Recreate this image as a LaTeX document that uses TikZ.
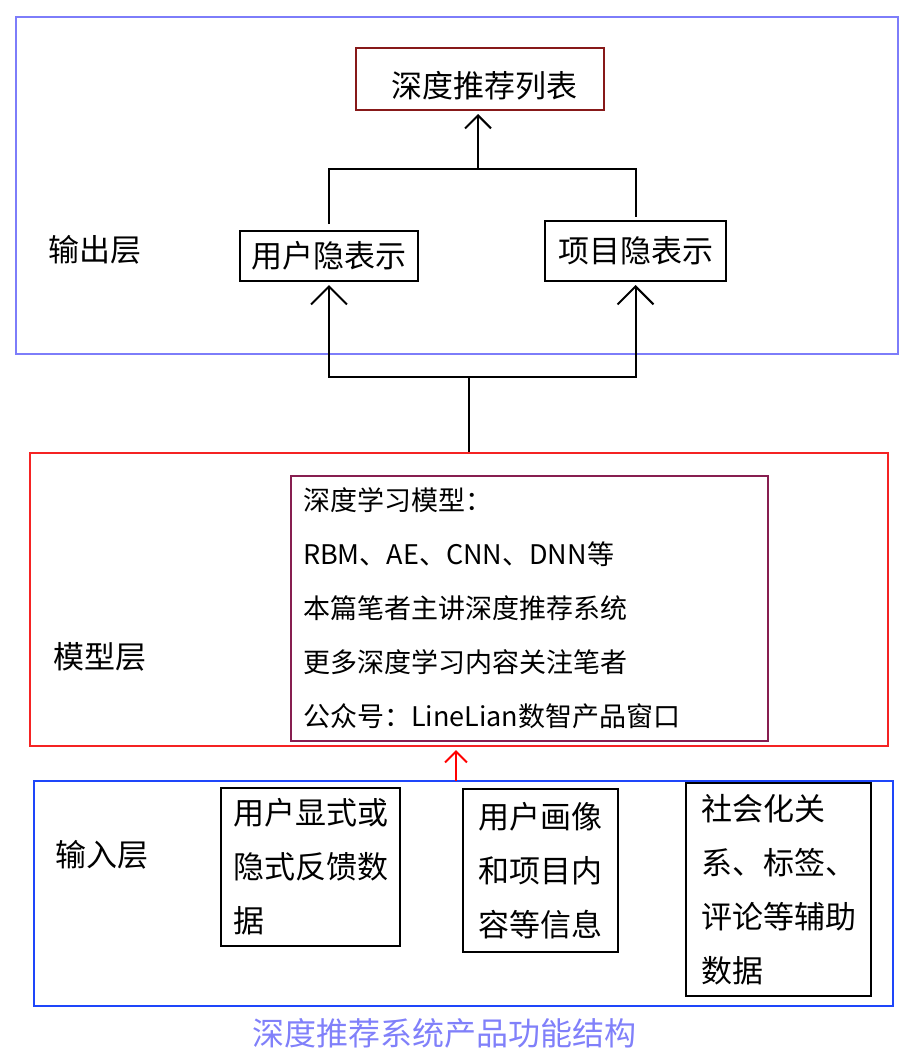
\documentclass[tikz,border=0pt]{standalone}
\usepackage{fontspec}
\setmainfont{Noto Sans CJK SC}
\usepackage{tikz}
\usetikzlibrary{arrows.meta,positioning}
\definecolor{outblue}{RGB}{125,125,250}
\definecolor{inblue}{RGB}{30,70,250}
\definecolor{modelred}{RGB}{245,35,35}
\definecolor{listred}{RGB}{135,25,25}
\definecolor{boxpurple}{RGB}{135,30,80}
\definecolor{captionblue}{RGB}{128,128,250}
\tikzset{
  layer/.style={draw, line width=2pt, minimum width=#1},
  box/.style={draw=black, line width=2pt, font=\fontsize{31}{54}\selectfont, align=left},
  lbl/.style={font=\fontsize{31}{36}\selectfont},
  link/.style={line width=2pt},
  uparrow/.style={link, -{Straight Barb[length=#1,width=2*#1]}, shorten >=3pt},
  uparrow/.default=14pt
}

\begin{document}
\begin{tikzpicture}[x=1pt,y=1pt]
                \tikzstyle{every node}+=[inner sep=0pt]
                \useasboundingbox (0,0) rectangle (910,-1058);
                \node [layer=882, draw=outblue, minimum height=337] (outlayer) at (457,-185.5) {};
                \node [lbl] (outlabel) at (95,-250) {输出层};
                \node [box, draw=listred, minimum width=248, minimum height=62, text height=40pt] (toplist) at (480,-79) {\hspace{8pt}深度推荐列表};
                \node [box, minimum width=178, minimum height=50] (userrep) at (329,-256) {用户隐表示};
                \node [box, minimum width=181, minimum height=60] (itemrep) at (635.5,-251) {项目隐表示};
                \coordinate (jtop) at (478,-169);
                \coordinate (jmid) at (469,-377);
                \draw [link, shorten <=6pt, shorten >=3pt] (userrep.north) |- (jtop) -| (itemrep.north);
                \draw [uparrow=13pt] (jtop) -- (jtop |- toplist.south);
                \draw [uparrow=18pt] (jmid) -| (userrep.south);
                \draw [uparrow=18pt] (jmid) -| (itemrep.south);
                \node [layer=858, draw=modelred, minimum height=293] (modellayer) at (459,-599.5) {};
                \draw [link] (jmid) -- (jmid |- modellayer.north);
                \node [lbl] (modellabel) at (100,-657) {模型层};
                \node [box, draw=boxpurple, minimum height=265, text width=453, inner xsep=12pt, font=\fontsize{27}{54}\selectfont] (models) at (529.5,-608.5)
                    {深度学习模型：\\RBM、AE、CNN、DNN等\\本篇笔者主讲深度推荐系统\\更多深度学习内容关注笔者\\公众号：LineLian数智产品窗口};
                \node [layer=859, draw=inblue, minimum height=225] (inlayer) at (463.5,-893.5) {};
                \coordinate (rin) at (456,-781);
                \draw [uparrow=11pt, draw=red] (rin) -- (rin |- modellayer.south);
                \node [lbl] (inlabel) at (102,-855) {输入层};
                \node [box, minimum width=179, minimum height=158] (feedback) at (310.5,-867) {用户显式或\\隐式反馈数\\据};
                \node [box, minimum width=155, minimum height=163] (profile) at (540.5,-870.5) {用户画像\\和项目内\\容等信息};
                \node [box, minimum width=185, minimum height=213] (social) at (778.5,-889.5) {社会化关\\系、标签、\\评论等辅助\\数据};
                \node [lbl, text=captionblue, font=\fontsize{32}{36}\selectfont] (caption) at (444,-1033) {深度推荐系统产品功能结构};
            \end{tikzpicture}
\end{document}
